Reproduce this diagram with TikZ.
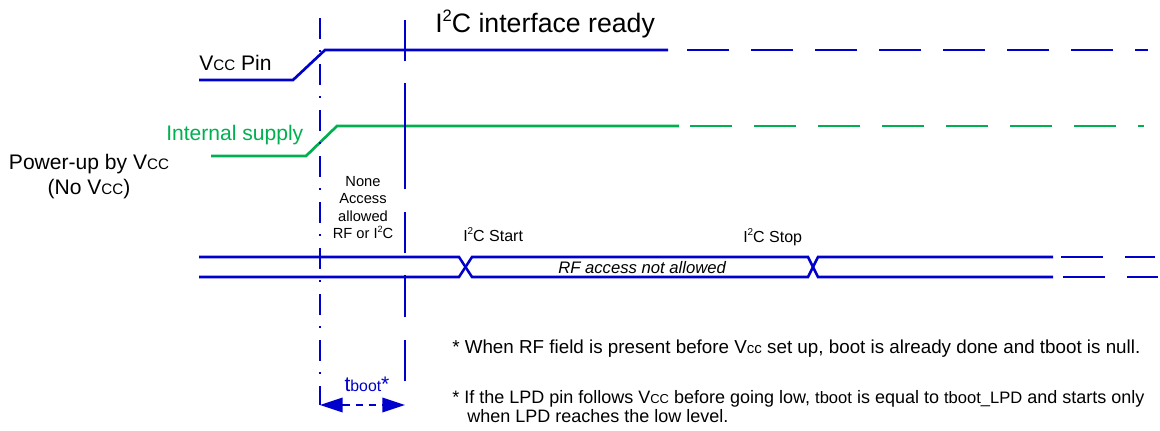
\documentclass[tikz,border=0pt]{standalone}
\usepackage{fontspec}
\setmainfont{Liberation Sans}
\usetikzlibrary{arrows.meta,positioning}

\definecolor{sigblue}{RGB}{0,0,204}
\definecolor{siggreen}{RGB}{0,176,80}
\newcommand{\vcc}{V\scalebox{0.72}{CC}}
\newcommand{\iic}{I\raisebox{0.75ex}{\scalebox{0.62}{2}}C}

\begin{document}
\begin{tikzpicture}[
    x=0.75pt, y=-0.75pt,
    vccsig/.style={line width=2pt, sigblue},
    intsig/.style={line width=2pt, siggreen},
    bus/.style={line width=1.9pt, sigblue},
    longdash/.style={dash pattern=on 31.5pt off 16.5pt},
    marker/.style={line width=1.9pt, sigblue},
    lbl/.style={font=\fontsize{15.8}{18.8}\selectfont, inner sep=0pt},
    small/.style={font=\fontsize{11}{13.1}\selectfont, inner sep=0pt, align=center},
    note/.style={font=\fontsize{14.1}{16}\selectfont, inner sep=0pt, anchor=base west},
    tarrow/.style={sigblue, line width=1.1pt, dash pattern=on 5.5pt off 4.5pt,
        {Triangle[length=17pt,width=11pt]}-{Triangle[length=17pt,width=11pt]}}
]
\useasboundingbox (0,0) rectangle (1160,430);

% Title
\node[font=\fontsize{20}{24}\selectfont, inner sep=0pt, anchor=base west] (ready) at (435,32) {\iic{} interface ready};

% Vcc pin
\coordinate (v0) at (199,80);
\coordinate (v1) at (293,80);
\coordinate (v2) at (325,50);
\coordinate (v3) at (668,50);
\draw[vccsig] (v0) -- (v1) -- (v2) -- (v3);
\draw[vccsig, longdash] (687,50) -- (1148,50);
\node[lbl, anchor=base west] (vccpin) at (199,70) {\vcc{} Pin};

% Internal supply
\coordinate (s0) at (211,156);
\coordinate (s1) at (306,156);
\coordinate (s2) at (337,126);
\coordinate (s3) at (679,126);
\draw[intsig] (s0) -- (s1) -- (s2) -- (s3);
\draw[intsig, longdash] (690,126) -- (1144,126);
\node[lbl, anchor=base west, text=siggreen] (intsup) at (166,140) {Internal supply};

\node[lbl, align=center, anchor=north] (powerup) at (89,154) {Power-up by \vcc\\(No \vcc)};

% Markers
\coordinate (tA) at (320,405);
\coordinate (tB) at (405,405);
\draw[marker, dash pattern=on 15.75pt off 8.6pt on 1.5pt off 8.65pt] (320,18) -- (tA);
\foreach \a/\b in {20/61,83/189,212/253,275/317,340/381}
    \draw[marker] (405,\a) -- (405,\b);

\node[small, anchor=north] (noacc) at (363,176) {None\\Access\\allowed\\RF or \iic};

% I2C bus
\draw[bus] (199,257) -- (459,257) -- (472,277) -- (808,277) -- (818,257) -- (1053,257);
\draw[bus] (199,277) -- (459,277) -- (472,257) -- (808,257) -- (818,277) -- (1053,277);
\draw[bus, longdash] (1061,257) -- (1155,257);
\draw[bus, longdash] (1063,277) -- (1158,277);

\node[font=\fontsize{12}{14}\selectfont, inner sep=0pt, anchor=base west] (start) at (463,241) {\iic{} Start};
\node[font=\fontsize{12}{14}\selectfont, inner sep=0pt, anchor=base west] (stop) at (743,242) {\iic{} Stop};
\node[font=\fontsize{12.5}{15}\selectfont\itshape, inner sep=0pt, anchor=base west] (rfna) at (558,273) {RF access not allowed};

% tboot
\draw[tarrow] (tA) -- (tB);
\node[lbl, text=sigblue, anchor=base] (tboot) at (367,391) {t\scalebox{0.75}{boot}*};

% Notes
\node[note] (note1) at (452,353) {* When RF field is present before V\scalebox{0.8}{cc} set up, boot is already done and tboot is null.};
\node[note, font=\fontsize{13.5}{16}\selectfont] (note2) at (452,403) {* If the LPD pin follows \vcc{} before going low, \scalebox{0.92}{tboot} is equal to \scalebox{0.92}{tboot\_LPD} and starts only};
\node[note, font=\fontsize{13.5}{16}\selectfont] (note3) at (467,422) {when LPD reaches the low level.};

\end{tikzpicture}
\end{document}
